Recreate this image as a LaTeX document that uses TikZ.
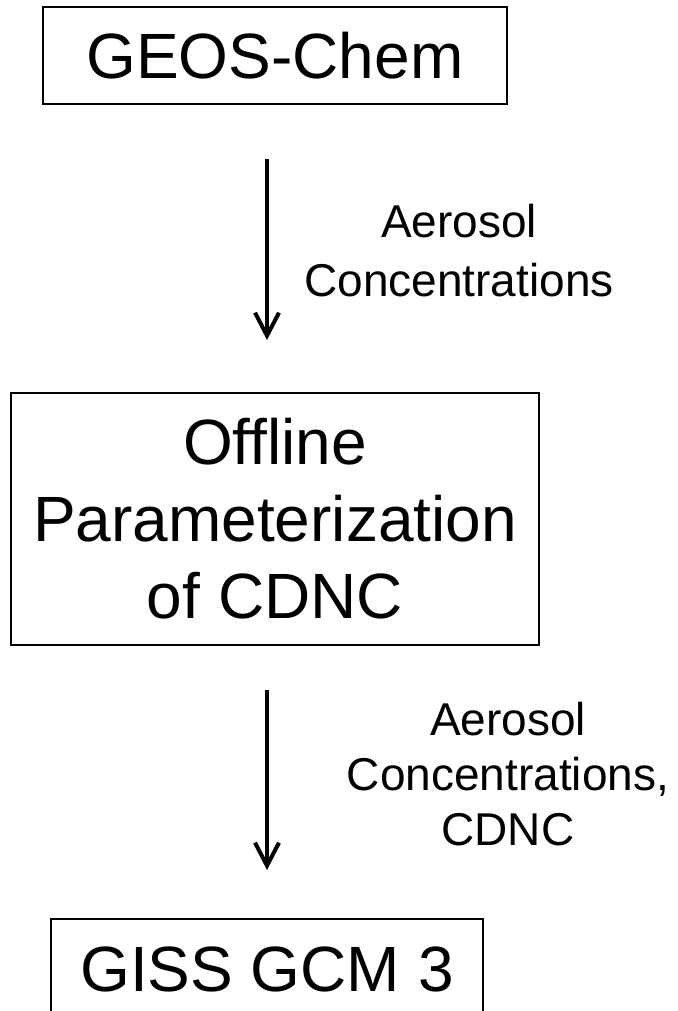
\documentclass[tikz,border=0pt]{standalone}
\usepackage{fontspec}
\setmainfont{Liberation Sans}
\usepackage{tikz}
\usetikzlibrary{arrows,arrows.meta}

\tikzset{
  boite/.style={draw, line width=0.85pt, inner sep=0pt, align=center, font=\fontsize{32}{38.5}\selectfont},
  fleche/.style={line width=2pt, -{Straight Barb[length=11.5pt,width=12pt]}},
  legende/.style={align=center, inner sep=0pt}
}

\begin{document}
\begin{tikzpicture}[x=0.5pt,y=-0.5pt]
\pgfmathsetmacro{\xfleche}{267}%
\pgfmathsetmacro{\ydebutA}{159}%
\pgfmathsetmacro{\yfinA}{340}%
\pgfmathsetmacro{\ydebutB}{690}%
\pgfmathsetmacro{\yfinB}{870}%

\useasboundingbox (0,0) rectangle (677,1011);

    %GEOS-Chem
    \node[boite, minimum width=232pt, minimum height=48.5pt] (geos) at (275,55.5) {GEOS-Chem};

    %parametrisation
    \node[boite, minimum width=264pt, minimum height=126pt] (offline) at (275,519) {Offline\\Parameterization\\of CDNC};

    %GISS
    \node[boite, minimum width=216pt, minimum height=50.5pt] (giss) at (267,969.5) {GISS GCM 3};

    %fleche 1
    \coordinate (hautA) at (\xfleche,\ydebutA);
    \coordinate (basA) at (\xfleche,\yfinA);
    \draw[fleche] (hautA) -- (basA);
    \node[legende, font=\fontsize{23}{29.5}\selectfont] (aerosolA) at (459,251) {Aerosol\\Concentrations};

    %fleche 2
    \coordinate (hautB) at (\xfleche,\ydebutB);
    \coordinate (basB) at (\xfleche,\yfinB);
    \draw[fleche] (hautB) -- (basB);
    \node[legende, font=\fontsize{23}{27.5}\selectfont] (aerosolB) at (508,774) {Aerosol\\Concentrations,\\CDNC};

\end{tikzpicture}
\end{document}
